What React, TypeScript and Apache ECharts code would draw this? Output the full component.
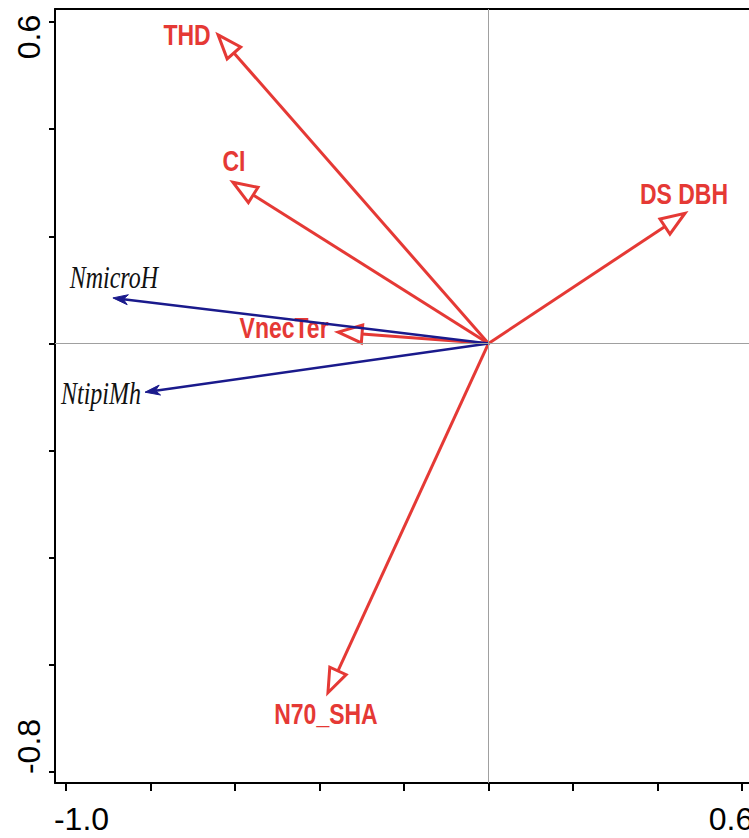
import React, { useEffect, useRef } from 'react';
import * as echarts from 'echarts';

// ---- data (biplot arrow tips) ----
const RED_NAMES = ['THD', 'CI', 'DS DBH', 'VnecTer', 'N70_SHA'];
const RED_X = [-0.64, -0.605, 0.465, -0.356, -0.38];
const RED_Y = [0.576, 0.301, 0.243, 0.021, -0.652];

const BLUE_NAMES = ['NmicroH', 'NtipiMh'];
const BLUE_X = [-0.889, -0.813];
const BLUE_Y = [0.085, -0.091];

const X_TICK_LABELS = ['-1.0', '0.6'];
const Y_TICK_LABELS = ['0.6', '-0.8'];

// ---- label placement (pixel offsets from arrow tip) ----
const RED_LABEL_OFFSET = [[-31, 0], [1, -21], [-1, -19], [-54, -4], [-2, 21]];
const BLUE_LABEL_OFFSET = [[1, -21], [-44, 1]];

// ---- layout ----
const X_TICK_MIN = -1.0, X_TICK_MAX = 0.6, Y_TICK_MIN = -0.8, Y_TICK_MAX = 0.6, STEP = 0.2;
const PX_LEFT = 66, PX_RIGHT = 742, PX_TOP = 22, PX_BOTTOM = 772;
const FRAME_LEFT = 55, FRAME_TOP = 9, FRAME_BOTTOM = 783, FRAME_RIGHT = 762;

const RED = '#e53935';
const BLUE = '#1a1a8c';

type Cfg = {
  color: string; lineWidth: number; headLen: number; headW: number; filled: boolean;
  textColor: string; fontSize: number; fontFamily: string; fontWeight: string; fontStyle: string; scaleY: number;
};

function makeRenderer(names: string[], offsets: number[][], cfg: Cfg) {
  return (params: any, api: any) => {
    const i = params.dataIndex;
    const o = api.coord([0, 0]);
    const t = api.coord([api.value(0), api.value(1)]);
    const dx = t[0] - o[0], dy = t[1] - o[1];
    const len = Math.hypot(dx, dy);
    const ux = dx / len, uy = dy / len;
    const nx = -uy, ny = ux;
    const bx = t[0] - ux * cfg.headLen, by = t[1] - uy * cfg.headLen;
    const p1 = [bx + nx * cfg.headW, by + ny * cfg.headW];
    const p2 = [bx - nx * cfg.headW, by - ny * cfg.headW];
    let points: number[][];
    let end: number[];
    if (cfg.filled) {
      const notch = [t[0] - ux * cfg.headLen * 0.7, t[1] - uy * cfg.headLen * 0.7];
      points = [t, p1, notch, p2];
      end = notch;
    } else {
      points = [t, p1, p2];
      end = [bx, by];
    }
    const off = offsets[i];
    return {
      type: 'group',
      children: [
        {
          type: 'line',
          shape: { x1: o[0], y1: o[1], x2: end[0], y2: end[1] },
          style: { stroke: cfg.color, lineWidth: cfg.lineWidth },
        },
        {
          type: 'polygon',
          shape: { points },
          style: cfg.filled
            ? { fill: cfg.color, stroke: cfg.color, lineWidth: 1 }
            : { fill: '#fff', stroke: cfg.color, lineWidth: cfg.lineWidth, lineJoin: 'miter' },
        },
        {
          type: 'text',
          x: t[0] + off[0],
          y: t[1] + off[1],
          scaleY: cfg.scaleY,
          style: {
            text: names[i],
            x: 0,
            y: 0,
            fill: cfg.textColor,
            fontSize: cfg.fontSize,
            fontFamily: cfg.fontFamily,
            fontWeight: cfg.fontWeight,
            fontStyle: cfg.fontStyle,
            align: 'center',
            verticalAlign: 'middle',
          },
        },
      ],
    };
  };
}

export default function App() {
  const ref = useRef<HTMLDivElement>(null);

  useEffect(() => {
    const chart = echarts.init(ref.current!, null, { renderer: 'svg' });

    const kx = (PX_RIGHT - PX_LEFT) / (X_TICK_MAX - X_TICK_MIN);
    const ky = (PX_BOTTOM - PX_TOP) / (Y_TICK_MAX - Y_TICK_MIN);
    const xmin = X_TICK_MIN - (PX_LEFT - FRAME_LEFT) / kx;
    const xmax = X_TICK_MAX + (FRAME_RIGHT - PX_RIGHT) / kx;
    const ymax = Y_TICK_MAX + (PX_TOP - FRAME_TOP) / ky;
    const ymin = Y_TICK_MIN - (FRAME_BOTTOM - PX_BOTTOM) / ky;

    const frameLine = { show: true, onZero: false, lineStyle: { color: '#000', width: 2 } };
    const tickFont = { fontFamily: 'Liberation Sans, Arial, sans-serif', fontSize: 32, color: '#000' };

    const option: any = {
      animation: false,
      backgroundColor: '#fff',
      grid: [
        {
          left: FRAME_LEFT, top: FRAME_TOP,
          width: FRAME_RIGHT - FRAME_LEFT, height: FRAME_BOTTOM - FRAME_TOP,
          outerBoundsMode: 'none',
        },
        {
          left: PX_LEFT, top: PX_TOP,
          width: PX_RIGHT - PX_LEFT, height: PX_BOTTOM - PX_TOP,
          outerBoundsMode: 'none',
        },
      ],
      xAxis: [
        {
          type: 'value', gridIndex: 0, position: 'bottom', min: xmin, max: xmax,
          axisLine: frameLine, axisTick: { show: false }, axisLabel: { show: false }, splitLine: { show: false },
        },
        {
          type: 'value', gridIndex: 0, position: 'top', min: xmin, max: xmax,
          axisLine: frameLine, axisTick: { show: false }, axisLabel: { show: false }, splitLine: { show: false },
        },
        {
          type: 'value', gridIndex: 1, position: 'bottom', min: X_TICK_MIN, max: X_TICK_MAX, interval: STEP,
          offset: FRAME_BOTTOM - PX_BOTTOM,
          axisLine: { show: false, onZero: false },
          axisTick: { show: true, length: 8, lineStyle: { color: '#000', width: 2 } },
          splitLine: { show: false },
          axisLabel: {
            show: true,
            margin: 20,
            ...tickFont,
            formatter: (v: number) => {
              const s = v.toFixed(1);
              if (!X_TICK_LABELS.includes(s)) return '';
              return s === X_TICK_LABELS[0] ? `{a|${s}}` : `{b|${s}}`;
            },
            rich: {
              a: { ...tickFont, padding: [0, 0, 0, 31] },
              b: { ...tickFont, padding: [0, 22, 0, 0] },
            },
          },
        },
      ],
      yAxis: [
        {
          type: 'value', gridIndex: 0, position: 'left', min: ymin, max: ymax,
          axisLine: frameLine, axisTick: { show: false }, axisLabel: { show: false }, splitLine: { show: false },
        },
        {
          type: 'value', gridIndex: 1, position: 'left', min: Y_TICK_MIN, max: Y_TICK_MAX, interval: STEP,
          offset: PX_LEFT - FRAME_LEFT,
          axisLine: { show: false, onZero: false },
          axisTick: { show: true, length: 6, lineStyle: { color: '#000', width: 2 } },
          splitLine: { show: false },
          axisLabel: {
            show: true,
            rotate: 90,
            margin: 10,
            ...tickFont,
            formatter: (v: number) => {
              const s = v.toFixed(1);
              if (!Y_TICK_LABELS.includes(s)) return '';
              return s === Y_TICK_LABELS[0] ? `{a|${s}}` : `{b|${s}}`;
            },
            rich: {
              a: { ...tickFont, padding: [0, 30, 0, 0] },
              b: { ...tickFont, padding: [0, 0, 0, 51] },
            },
          },
        },
      ],
      series: [
        {
          type: 'line',
          xAxisIndex: 0, yAxisIndex: 0,
          data: [],
          z: 1,
          silent: true,
          markLine: {
            silent: true,
            symbol: 'none',
            label: { show: false },
            lineStyle: { color: '#a0a0a0', width: 1, type: 'solid' },
            data: [{ xAxis: 0 }, { yAxis: 0 }],
          },
        },
        {
          type: 'custom',
          xAxisIndex: 0, yAxisIndex: 0,
          z: 3,
          silent: true,
          data: BLUE_X.map((x, i) => [x, BLUE_Y[i]]),
          renderItem: makeRenderer(BLUE_NAMES, BLUE_LABEL_OFFSET, {
            color: BLUE, lineWidth: 2.5, headLen: 15, headW: 5, filled: true,
            textColor: '#111', fontSize: 24, fontFamily: 'Liberation Serif, Times New Roman, serif',
            fontWeight: 'normal', fontStyle: 'italic', scaleY: 1.35,
          }),
        },
        {
          type: 'custom',
          xAxisIndex: 0, yAxisIndex: 0,
          z: 2,
          silent: true,
          data: RED_X.map((x, i) => [x, RED_Y[i]]),
          renderItem: makeRenderer(RED_NAMES, RED_LABEL_OFFSET, {
            color: RED, lineWidth: 3, headLen: 24, headW: 9, filled: false,
            textColor: RED, fontSize: 23, fontFamily: 'Liberation Sans, Arial, sans-serif',
            fontWeight: 'bold', fontStyle: 'normal', scaleY: 1.25,
          }),
        },
      ],
    };

    chart.setOption(option);
    return () => chart.dispose();
  }, []);

  return (
    <div
      ref={ref}
      style={{ position: 'absolute', left: 0, top: 0, width: 749, height: 838, background: '#fff' }}
    />
  );
}
